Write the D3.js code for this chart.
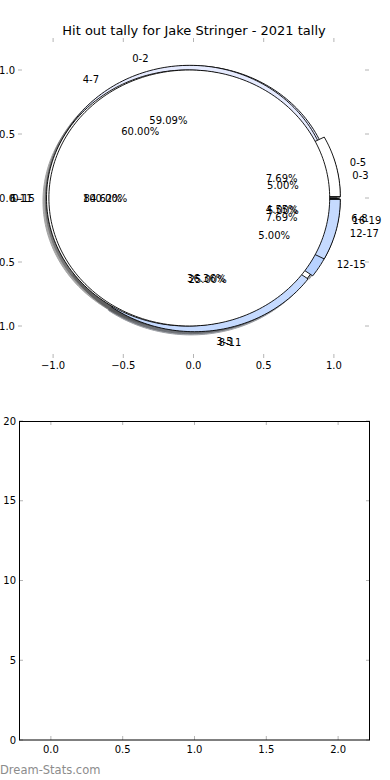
<!DOCTYPE html>
<html>
<head>
<meta charset="utf-8">
<script src="https://cdn.jsdelivr.net/npm/d3@7"></script>
<style>
  body { margin: 0; background: #fff; }
  text { font-family: "DejaVu Sans", sans-serif; }
</style>
</head>
<body>
<div id="chart"></div>
<script>
'use strict';

const title = 'Hit out tally for Jake Stringer - 2021 tally';

// one pie per bin size, drawn on top of each other
const threeLabels = ['0-2', '3-5', '6-8'];
const threeCounts = [13, 8, 1];
const fourLabels = ['0-3', '4-7', '8-11', '12-15', '16-19'];
const fourCounts = [1, 12, 5, 1, 1];
const sixLabels = ['0-5', '6-11', '12-17'];
const sixCounts = [1, 11, 1];
const sixteenLabels = ['0-15'];
const sixteenCounts = [20];

const pieTicks = [-1, -0.5, 0, 0.5, 1];
const barXTicks = [0, 0.5, 1, 1.5, 2];
const barYTicks = [0, 5, 10, 15, 20];

const lavender = '#e6ebff';
const blue = '#c5daff';
const blue2 = '#b8d2ff';

const pies = [
    { labels: threeLabels, counts: threeCounts, explode: 0.035, colors: [lavender, '#ffffff', blue] },
    { labels: fourLabels, counts: fourCounts, explode: 0.045, colors: ['#ffffff', lavender, blue, blue2, blue] },
    { labels: sixLabels, counts: sixCounts, explode: 0.047, colors: ['#ffffff', '#ffffff', blue] },
    { labels: sixteenLabels, counts: sixteenCounts, explode: 0.03, colors: ['#ffffff'] }
];

const svg = d3.select('#chart')
    .append('svg')
    .attr('width', 390)
    .attr('height', 780);

svg.append('text')
    .attr('x', 194)
    .attr('y', 30)
    .attr('text-anchor', 'middle')
    .attr('dominant-baseline', 'central')
    .style('font-size', '13px')
    .text(title);

// ---- pie axes
const x = d3.scaleLinear().domain([-1.25, 1.25]).range([18, 369]);
const y = d3.scaleLinear().domain([-1.25, 1.25]).range([358, 38]);
const fmt = d3.format('.1f');
const tickGray = '#b4b4b4';

const rad = Math.PI / 180;
const line = d3.line().x(p => x(p[0])).y(p => y(p[1]));

function wedgePoints(cx, cy, t1, t2, dx, dy) {
    // a full circle has no radial edges
    const full = (t2 - t1) >= 359.999;
    const pts = full ? [] : [[cx + dx, cy + dy]];
    const n = Math.max(2, Math.ceil((t2 - t1) / 1.5));
    for (let i = 0; i <= n; i++) {
        const t = (t1 + (t2 - t1) * i / n) * rad;
        pts.push([cx + dx + Math.cos(t), cy + dy + Math.sin(t)]);
    }
    return pts;
}

function shade(c) {
    const rgb = d3.rgb(c);
    return d3.rgb(rgb.r * 0.3, rgb.g * 0.3, rgb.b * 0.3).toString();
}

const shadowLayer = svg.append('g');
const wedgeLayer = svg.append('g');
const textLayer = svg.append('g');

pies.forEach(pie => {
    const total = d3.sum(pie.counts);
    let t1 = 0;
    pie.counts.forEach((c, i) => {
        const frac = c / total;
        const t2 = t1 + frac * 360;
        const tm = (t1 + t2) / 2 * rad;
        const cx = pie.explode * Math.cos(tm);
        const cy = pie.explode * Math.sin(tm);
        const col = pie.colors[i % pie.colors.length];

        shadowLayer.append('path')
            .attr('d', line(wedgePoints(cx, cy, t1, t2, -0.025, -0.025)) + 'Z')
            .attr('fill', shade(col))
            .attr('stroke', shade(col))
            .attr('opacity', 0.5);

        wedgeLayer.append('path')
            .attr('d', line(wedgePoints(cx, cy, t1, t2, 0, 0)) + 'Z')
            .attr('fill', col)
            .attr('stroke', '#000')
            .attr('stroke-width', 0.9)
            .attr('stroke-linejoin', 'round');

        const lx = cx + 1.1 * Math.cos(tm);
        const ly = cy + 1.1 * Math.sin(tm);
        textLayer.append('text')
            .attr('x', x(lx))
            .attr('y', y(ly))
            .attr('text-anchor', lx > 0 ? 'start' : 'end')
            .attr('dominant-baseline', 'central')
            .style('font-size', '10px')
            .text(pie.labels[i]);

        textLayer.append('text')
            .attr('x', x(cx + 0.6 * Math.cos(tm)))
            .attr('y', y(cy + 0.6 * Math.sin(tm)))
            .attr('text-anchor', 'middle')
            .attr('dominant-baseline', 'central')
            .style('font-size', '10px')
            .text((frac * 100).toFixed(2) + '%');

        t1 = t2;
    });
});

const pieTickG = svg.append('g');
pieTicks.forEach(t => {
    pieTickG.append('line').attr('x1', x(t)).attr('x2', x(t)).attr('y1', 38).attr('y2', 42).attr('stroke', tickGray);
    pieTickG.append('line').attr('x1', x(t)).attr('x2', x(t)).attr('y1', 354).attr('y2', 358).attr('stroke', tickGray);
    pieTickG.append('line').attr('y1', y(t)).attr('y2', y(t)).attr('x1', 18).attr('x2', 22).attr('stroke', tickGray);
    pieTickG.append('line').attr('y1', y(t)).attr('y2', y(t)).attr('x1', 365).attr('x2', 369).attr('stroke', tickGray);
    pieTickG.append('text')
        .attr('x', x(t)).attr('y', 365)
        .attr('text-anchor', 'middle').attr('dominant-baseline', 'central')
        .style('font-size', '10px').text(fmt(t));
    pieTickG.append('text')
        .attr('x', 15).attr('y', y(t))
        .attr('text-anchor', 'end').attr('dominant-baseline', 'central')
        .style('font-size', '10px').text(fmt(t));
});

// ---- empty lower axes
const x2 = d3.scaleLinear().domain([-0.222, 2.222]).range([19, 370]);
const y2 = d3.scaleLinear().domain([0, 20]).range([740, 421]);

const ax2 = svg.append('g');
barXTicks.forEach(t => {
    ax2.append('line').attr('x1', x2(t)).attr('x2', x2(t)).attr('y1', 421).attr('y2', 425).attr('stroke', tickGray);
    ax2.append('line').attr('x1', x2(t)).attr('x2', x2(t)).attr('y1', 736).attr('y2', 740).attr('stroke', tickGray);
    ax2.append('text')
        .attr('x', x2(t)).attr('y', 749)
        .attr('text-anchor', 'middle').attr('dominant-baseline', 'central')
        .style('font-size', '10px').text(fmt(t));
});
barYTicks.forEach(t => {
    ax2.append('line').attr('y1', y2(t)).attr('y2', y2(t)).attr('x1', 19).attr('x2', 23).attr('stroke', tickGray);
    ax2.append('line').attr('y1', y2(t)).attr('y2', y2(t)).attr('x1', 366).attr('x2', 370).attr('stroke', tickGray);
    ax2.append('text')
        .attr('x', 16).attr('y', y2(t))
        .attr('text-anchor', 'end').attr('dominant-baseline', 'central')
        .style('font-size', '10px').text(t);
});
ax2.append('rect')
    .attr('x', 19.5).attr('y', 421.5)
    .attr('width', 350).attr('height', 318.5)
    .attr('fill', 'none')
    .attr('stroke', '#000');

svg.append('text')
    .attr('x', 0)
    .attr('y', 770)
    .attr('dominant-baseline', 'central')
    .attr('fill', '#8c8c8c')
    .style('font-size', '11.5px')
    .text('Dream-Stats.com');
</script>
</body>
</html>
